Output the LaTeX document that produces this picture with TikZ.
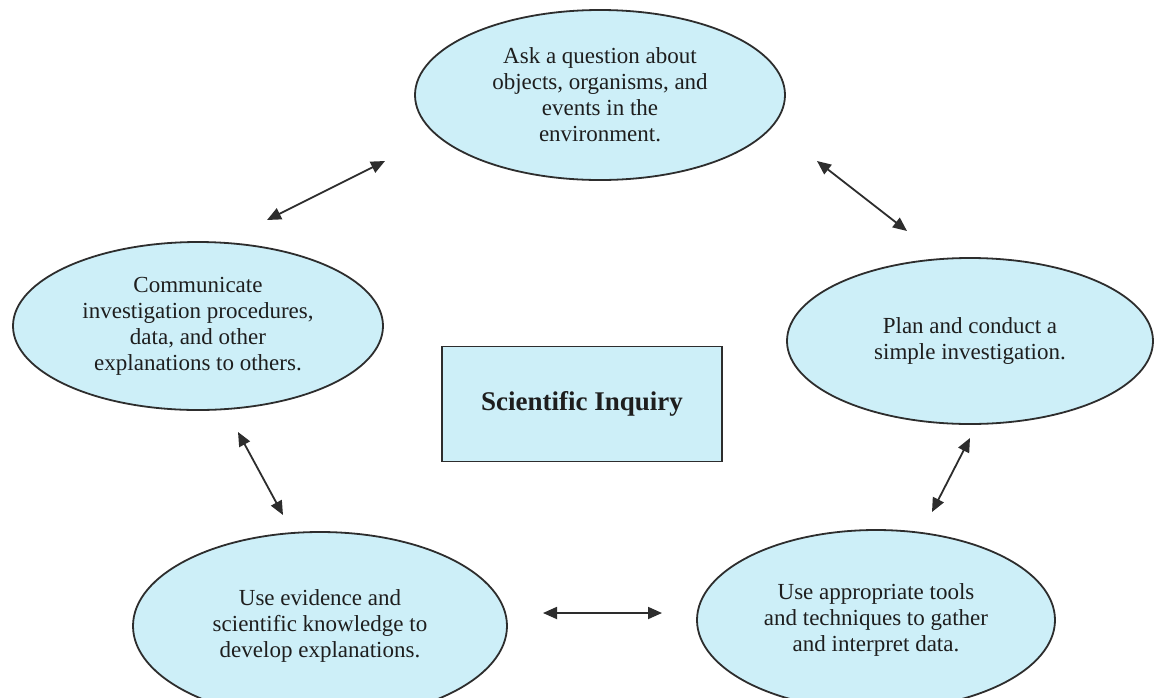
\documentclass[tikz,border=0pt]{standalone}
\usepackage{fontspec}
\setmainfont{Liberation Serif}
\usetikzlibrary{shapes.geometric,arrows.meta}
\definecolor{fillc}{RGB}{205,239,248}
\definecolor{linec}{RGB}{45,45,45}
\definecolor{textc}{RGB}{30,30,30}
\tikzset{
  oval/.style={ellipse,draw=linec,line width=1.8pt,fill=fillc,inner sep=0pt,
    align=center,text=textc,font=\fontsize{23}{26}\selectfont},
  titlebox/.style={rectangle,draw=linec,line width=1.6pt,fill=fillc,inner sep=0pt,
    align=center,text=textc,font=\fontsize{27}{30}\selectfont\bfseries},
  dblarrow/.style={line width=1.8pt,draw=linec,
    {Triangle[length=14pt,width=12pt]}-{Triangle[length=14pt,width=12pt]}}
}
\begin{document}
\begin{tikzpicture}[x=1pt,y=-1pt]
\useasboundingbox[fill=white] (0,0) rectangle (1154,697);
\node[oval,minimum width=370pt,minimum height=170pt] (ask) at (600,95)
  {Ask a question about\\objects, organisms, and\\events in the\\environment.};
\node[oval,minimum width=370pt,minimum height=168pt] (comm) at (198,326)
  {Communicate\\investigation procedures,\\data, and other\\explanations to others.};
\node[oval,minimum width=366pt,minimum height=166pt] (plan) at (970,341)
  {Plan and conduct a\\simple investigation.};
\node[oval,minimum width=374pt,minimum height=188pt] (evid) at (320,626)
  {Use evidence and\\scientific knowledge to\\develop explanations.};
\node[oval,minimum width=358pt,minimum height=180pt] (tools) at (876,620)
  {Use appropriate tools\\and techniques to gather\\and interpret data.};
\node[titlebox,minimum width=280pt,minimum height=115pt] (inq) at (582,404)
  {Scientific Inquiry};
\coordinate (a1s) at (267,220); \coordinate (a1e) at (385,161);
\coordinate (a2s) at (817,161); \coordinate (a2e) at (907,231);
\coordinate (a3s) at (238,432); \coordinate (a3e) at (283,515);
\coordinate (a4s) at (543,613); \coordinate (a4e) at (662,613);
\coordinate (a5s) at (970,438); \coordinate (a5e) at (932,512);
\draw[dblarrow] (a1s) -- (a1e);
\draw[dblarrow] (a2s) -- (a2e);
\draw[dblarrow] (a3s) -- (a3e);
\draw[dblarrow] (a4s) -- (a4e);
\draw[dblarrow] (a5s) -- (a5e);
\end{tikzpicture}
\end{document}
